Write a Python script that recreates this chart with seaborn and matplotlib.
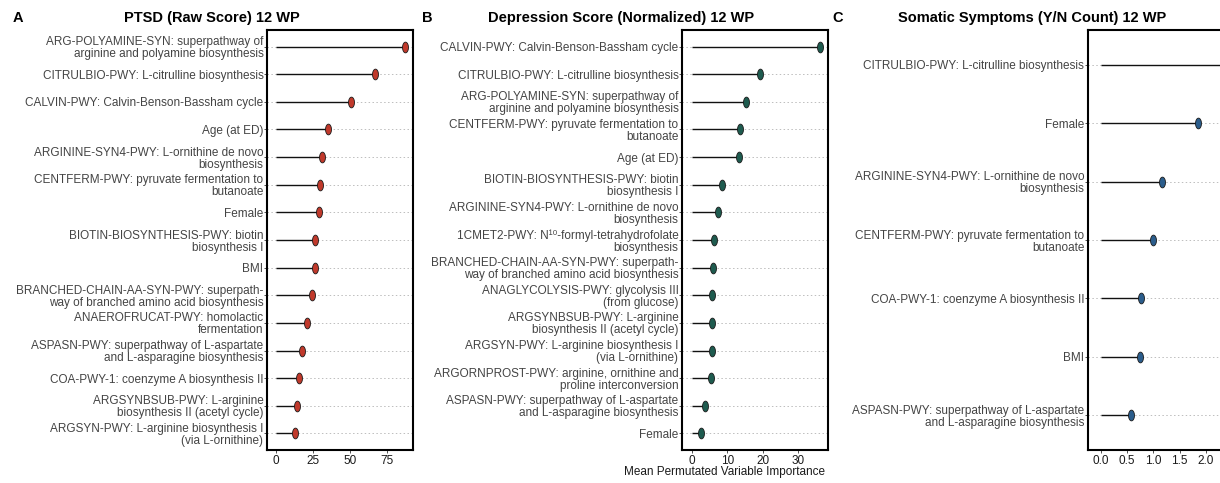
import numpy as np
import pandas as pd
import matplotlib
matplotlib.use('Agg')
import matplotlib.pyplot as plt
import seaborn as sns
from matplotlib.path import Path
from matplotlib.markers import MarkerStyle

sns.set_theme(style='white')
plt.rcParams['font.family'] = ['Liberation Sans', 'DejaVu Sans']

# PTSD (raw score) 12 WP
ptsd_features = [
    'ARG-POLYAMINE-SYN: superpathway of\narginine and polyamine biosynthesis',
    'CITRULBIO-PWY: L-citrulline biosynthesis',
    'CALVIN-PWY: Calvin-Benson-Bassham cycle',
    'Age (at ED)',
    'ARGININE-SYN4-PWY: L-ornithine de novo\nbiosynthesis',
    'CENTFERM-PWY: pyruvate fermentation to\nbutanoate',
    'Female',
    'BIOTIN-BIOSYNTHESIS-PWY: biotin\nbiosynthesis I',
    'BMI',
    'BRANCHED-CHAIN-AA-SYN-PWY: superpath-\nway of branched amino acid biosynthesis',
    'ANAEROFRUCAT-PWY: homolactic\nfermentation',
    'ASPASN-PWY: superpathway of L-aspartate\nand L-asparagine biosynthesis',
    'COA-PWY-1: coenzyme A biosynthesis II',
    'ARGSYNBSUB-PWY: L-arginine\nbiosynthesis II (acetyl cycle)',
    'ARGSYN-PWY: L-arginine biosynthesis I\n(via L-ornithine)',
]
ptsd_importance = [87.2, 66.9, 50.7, 35.3, 31.3, 29.4, 29.2, 26.6, 26.3,
                   24.1, 21.0, 17.8, 15.8, 14.2, 13.0]

# Depression score (normalized) 12 WP
dep_features = [
    'CALVIN-PWY: Calvin-Benson-Bassham cycle',
    'CITRULBIO-PWY: L-citrulline biosynthesis',
    'ARG-POLYAMINE-SYN: superpathway of\narginine and polyamine biosynthesis',
    'CENTFERM-PWY: pyruvate fermentation to\nbutanoate',
    'Age (at ED)',
    'BIOTIN-BIOSYNTHESIS-PWY: biotin\nbiosynthesis I',
    'ARGININE-SYN4-PWY: L-ornithine de novo\nbiosynthesis',
    '1CMET2-PWY: N¹⁰-formyl-tetrahydrofolate\nbiosynthesis',
    'BRANCHED-CHAIN-AA-SYN-PWY: superpath-\nway of branched amino acid biosynthesis',
    'ANAGLYCOLYSIS-PWY: glycolysis III\n(from glucose)',
    'ARGSYNBSUB-PWY: L-arginine\nbiosynthesis II (acetyl cycle)',
    'ARGSYN-PWY: L-arginine biosynthesis I\n(via L-ornithine)',
    'ARGORNPROST-PWY: arginine, ornithine and\nproline interconversion',
    'ASPASN-PWY: superpathway of L-aspartate\nand L-asparagine biosynthesis',
    'Female',
]
dep_importance = [36.3, 19.3, 15.2, 13.6, 13.3, 8.6, 7.2, 6.2, 5.9,
                  5.7, 5.7, 5.6, 5.4, 3.7, 2.5]

# Somatic symptoms (Y/N count) 12 WP
som_features = [
    'CITRULBIO-PWY: L-citrulline biosynthesis',
    'Female',
    'ARGININE-SYN4-PWY: L-ornithine de novo\nbiosynthesis',
    'CENTFERM-PWY: pyruvate fermentation to\nbutanoate',
    'COA-PWY-1: coenzyme A biosynthesis II',
    'BMI',
    'ASPASN-PWY: superpathway of L-aspartate\nand L-asparagine biosynthesis',
]
som_importance = [2.4, 1.85, 1.16, 1.0, 0.76, 0.74, 0.58]

# tall ellipse marker
t = np.linspace(0, 2 * np.pi, 40)
ellipse = MarkerStyle(Path(np.column_stack([0.55 * np.cos(t), np.sin(t)]), closed=True))


def draw_panel(ax, features, values, color, xlim, xticks):
    df = pd.DataFrame({'feature': features, 'importance': values})
    sns.scatterplot(data=df, x='importance', y='feature', ax=ax, color=color,
                    marker=ellipse, s=60, edgecolor='#1a1a1a', linewidth=0.6,
                    zorder=3, legend=False)
    ax.hlines(y=df['feature'], xmin=0, xmax=df['importance'], color='#111111',
              lw=1.0, zorder=2)
    ax.set_ylim(len(features) - 0.4, -0.6)
    ax.set_xlim(*xlim)
    ax.set_xticks(xticks)
    ax.set_xlabel('')
    ax.set_ylabel('')
    ax.yaxis.grid(True, linestyle=(0, (1.5, 2.5)), color='#BDBDBD', lw=0.7)
    ax.xaxis.grid(False)
    ax.set_axisbelow(True)
    for sp in ax.spines.values():
        sp.set_color('black')
        sp.set_linewidth(1.5)
    ax.tick_params(axis='y', labelsize=8.5, labelcolor='#444444', length=2,
                   width=0.6, pad=0.8, left=True, color='#333333')
    ax.tick_params(axis='x', labelsize=8.5, labelcolor='#1a1a1a', length=2,
                   width=0.6, pad=1.5, bottom=True, color='#333333')
    for lab in ax.get_yticklabels():
        lab.set_linespacing(1.0)


fig = plt.figure(figsize=(12.2, 4.83), dpi=100)
bottom, height = 0.0683, 0.8696
ax_a = fig.add_axes([0.2191, bottom, 0.1192, height])
ax_b = fig.add_axes([0.5593, bottom, 0.1192, height])
ax_c = fig.add_axes([0.8920, bottom, 0.1192, height])

draw_panel(ax_a, ptsd_features, ptsd_importance, '#C0392B', (-5.9, 92.4), [0, 25, 50, 75])
draw_panel(ax_b, dep_features, dep_importance, '#1E5B4F', (-2.75, 38.4), [0, 10, 20, 30])
draw_panel(ax_c, som_features, som_importance, '#2B5D8C', (-0.24, 2.53),
           [0.0, 0.5, 1.0, 1.5, 2.0])
ax_c.set_xticklabels(['0.0', '0.5', '1.0', '1.5', '2.0'])

title_y = 0.9627
fig.text(0.1738, title_y, 'PTSD (Raw Score) 12 WP', ha='center', va='center',
         fontsize=10.5, fontweight='bold', color='black')
fig.text(0.509, title_y, 'Depression Score (Normalized) 12 WP', ha='center', va='center',
         fontsize=10.5, fontweight='bold', color='black')
fig.text(0.846, title_y, 'Somatic Symptoms (Y/N Count) 12 WP', ha='center', va='center',
         fontsize=10.5, fontweight='bold', color='black')
for x, letter in [(0.0104, 'A'), (0.3456, 'B'), (0.6825, 'C')]:
    fig.text(x, title_y, letter, ha='left', va='center', fontsize=10.5,
             fontweight='bold', color='black')

fig.text(0.676, 0.0234, 'Mean Permutated Variable Importance', ha='right', va='center',
         fontsize=8.5, color='#1a1a1a')

plt.savefig('out.png', dpi=100)
